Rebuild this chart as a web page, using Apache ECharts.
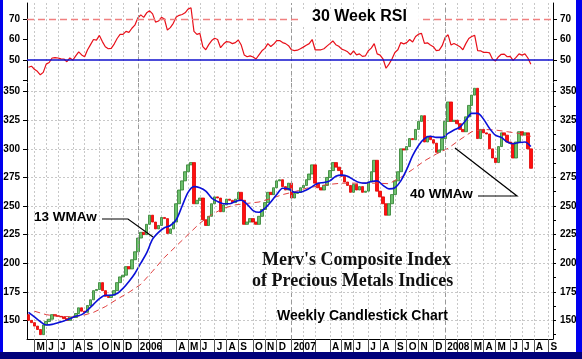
<!DOCTYPE html>
<html><head><meta charset="utf-8">
<script src="https://cdn.jsdelivr.net/npm/echarts@6/dist/echarts.min.js"></script>
<style>html,body{margin:0;padding:0;background:#fff}#c{width:582px;height:359px}</style>
</head><body><div id="c"></div>
<script>
// ---- data ----
const startFriday = '2005-04-22';
const weekCount = 178;
const monthLetters = ['J','F','M','A','M','J','J','A','S','O','N','D'];
const hiddenMonthLabels = ['2006-02','2006-03','2007-02','2007-03','2008-02'];
const yearLineDates = ['2006-01-06','2007-01-05','2008-01-04'];

const opens = [155,150,148,145,142,137.5,146,149,151,155,154,153.5,153,151.5,150,153,152.5,156,161,158,
157,163,168,176,177,183,176,171,170,172,176,183,188,189.5,197,195,203,210,222,227,
225,234,242,236,230,233,240,239,226,230,236,252,264,272,280,286,288,252,255,257,
238,233,241,252,258,257,245,251,256,255,253,256,262,255,234,236,239,236,234,241,
247,253,262,260,266,272,273,267,264,270,257,261,262,266,268,273,278,286,270,266,
264,268,275,281,288,284,281,276,271,268,262,269,264,267,262,263,271,280,290,263,
258,252,242,252,260,272,280,300,299,302,309,308,317,324,329,306,311,308,305,297,
299,309,324,341,324,325,322,317,315,328,338,347,353,309,317,314,313,300,292,288,
302,314,312,306,305,292,306,315,312,314,300];
const closes = [150,148,145,142,137.5,146,149,151,155,154,153.5,153,151.5,150,153,152.5,156,161,158,157,
163,168,176,177,183,176,171,170,172,176,183,188,189.5,197,195,203,210,222,227,225,
234,242,236,230,233,240,239,226,230,236,252,264,272,280,286,288,252,255,257,238,
233,241,252,258,257,245,251,256,255,253,256,262,255,234,236,239,236,234,241,247,
253,262,260,266,272,273,267,264,270,257,261,262,266,268,273,278,286,270,266,264,
268,275,281,288,284,281,276,271,268,262,269,264,267,262,263,271,280,290,263,258,
252,242,252,260,272,280,300,299,302,309,308,317,324,329,306,311,308,305,297,299,
309,324,341,324,325,322,317,315,328,338,347,353,309,317,314,313,300,292,288,302,
314,312,306,305,292,306,315,312,314,300,283];
const rsi30 = [46.5,47,45.5,44.5,42.8,44,48,48.8,51,51.2,51,50.6,50.5,49.2,51,50,52,54,52.5,51.6,
55,57.5,60,59.7,62,59,56.5,55.5,55.7,57.8,60.5,62.5,62.5,64,63.5,65.5,67,70.5,72,70.8,
73,74,72.5,68.5,69,70.8,70,64.6,65.8,67.9,71,71.8,72.2,73,74.8,75.5,64,62.5,63,56.5,
55,57.5,59.5,60.6,60,56,57.8,59,58.8,58,58.5,59.8,57.3,52.5,51.6,52,51.5,50.5,52.5,54.5,
55.7,58,56.6,57.8,59.5,59.5,58.5,58,57,55,54.6,54.8,55.5,56.3,57.2,58,60,55,55,55,
55.5,56.8,58,59.3,57.5,56.7,55.3,54.8,54,52.6,54.5,52.5,53,51.8,52,54.5,55.8,58,53,52.4,
50.5,46,48,50.5,53.7,55,58.5,57.9,58.5,60,58.8,61.5,62.6,63,58.1,58.4,57.3,56.5,54.6,54.8,
57,61,62.3,57.3,58.1,57.3,56.5,55,58,60.5,61.5,62,54.6,54.5,53.7,53.8,53.5,50.5,49.5,51.5,
52.8,52.9,51.6,51.8,49.8,51.3,53,52.4,53,51,48];
// 13 week WMA, read every 2nd week starting at week 0
const ma13Values = [157,153,149,146,146.5,148,149.5,151.5,153.5,155,159,164,169,172,172,173.5,178,184,191,200,
209,221,227,231,233,238,250,262,267,266,263,257,254,252,252,254,255,251.5,246,244.5,
248,253.5,260,265.5,265,262,262,264,267,270,270.5,272,276,277,276,273,270.5,270,271.5,272,
268,265,266,272,282,294,303,309,311,310,310,313.5,316.5,319,325,331,331,326,318,312,
310,306,304.5,305.5,306,302];
// 40 week WMA, read every 4th week starting at week 2
const ma40Values = [158,155,153.5,153.2,154,157,162,168.5,174.5,181.5,193,205,215,225,235,242.5,248,251,252.3,253.5,
256.5,260,262.5,265.5,267.5,269,270,270,270,270,269.5,275,282,289.5,295.5,300.5,308,315,317,316.5,
315,313.5,311];
const priceLabels = [150,175,200,225,250,275,300,325,350];
const priceMinorTicks = [137.5,150,162.5,175,187.5,200,212.5,225,237.5,250,262.5,275,287.5,300,312.5,325,337.5,350];
const rsiTicks = [40,50,60,70];
const rsiLabels = [50,60,70];

// ---- build ----
const dates = [];
const t0 = Date.parse(startFriday + 'T00:00:00Z');
for (let k = 0; k < weekCount; k++) dates.push(new Date(t0 + k * 7 * 86400000).toISOString().slice(0, 10));
const isMonthStart = (idx) => +dates[idx].slice(8, 10) <= 7;
const showLabel = (idx) => isMonthStart(idx) && hiddenMonthLabels.indexOf(dates[idx].slice(0, 7)) < 0;
const fmtLabel = (v) => {
  const m = +v.slice(5, 7);
  if (m === 1) return v.slice(0, 4);
  return monthLetters[m - 1];
};
const candleData = closes.map((c, k) => [opens[k], c, Math.min(opens[k], c), Math.max(opens[k], c)]);
const ma13 = dates.map(() => null); ma13Values.forEach((v, k) => { ma13[k * 2] = v; });
const ma40 = dates.map(() => null); ma40Values.forEach((v, k) => { ma40[2 + k * 4] = v; });

const AX = '#000';
const gridLine = { show: true, alignWithLabel: true, interval: (i) => isMonthStart(i), lineStyle: { color: '#c8c8c8', type: [2, 2], width: 1 } };
const yearMark = () => ({
  silent: true, symbol: 'none', label: { show: false },
  lineStyle: { color: '#9a9a9a', type: [4, 3], width: 1 },
  data: yearLineDates.map(d => ({ xAxis: d }))
});
const labelFont = { fontFamily: 'Arial', fontWeight: 'bold', fontSize: 10, color: '#000' };

const option = {
  animation: false,
  backgroundColor: '#fff',
  grid: [
    { left: 27, right: 29, top: 3, height: 79 },
    { left: 27, right: 29, top: 83, height: 256 }
  ],
  xAxis: [
    { type: 'category', gridIndex: 0, data: dates, boundaryGap: true,
      axisLine: { show: false }, axisTick: { show: false }, axisLabel: { show: false },
      splitLine: gridLine },
    { type: 'category', gridIndex: 1, data: dates, boundaryGap: true,
      axisLine: { show: true, lineStyle: { color: AX } },
      axisTick: { show: true, alignWithLabel: true, interval: (i) => isMonthStart(i), length: 13, lineStyle: { color: '#555' } },
      axisLabel: Object.assign({ show: true, interval: (i) => showLabel(i), formatter: fmtLabel, align: 'left', margin: 3, padding: [0, 0, 0, 2] }, labelFont),
      splitLine: gridLine }
  ],
  yAxis: [
    { type: 'value', gridIndex: 0, position: 'left', min: 39.3, max: 77.8,
      axisLine: { show: true, lineStyle: { color: AX } },
      axisTick: { show: true, customValues: rsiTicks, length: 4, lineStyle: { color: AX } },
      axisLabel: Object.assign({ customValues: rsiLabels, margin: 7 }, labelFont),
      splitLine: { show: false } },
    { type: 'value', gridIndex: 0, position: 'right', min: 39.3, max: 77.8,
      axisLine: { show: true, lineStyle: { color: AX } },
      axisTick: { show: true, customValues: rsiTicks, length: 4, lineStyle: { color: AX } },
      axisLabel: Object.assign({ customValues: rsiLabels, margin: 7 }, labelFont),
      splitLine: { show: false } },
    { type: 'value', gridIndex: 1, position: 'left', min: 133.7, max: 357.6,
      axisLine: { show: true, lineStyle: { color: AX } },
      axisTick: { show: true, customValues: priceLabels, length: 4, lineStyle: { color: AX } },
      axisLabel: Object.assign({ customValues: priceLabels, margin: 7 }, labelFont),
      splitLine: { show: true, lineStyle: { color: '#c8c8c8', type: [2, 2] } } },
    { type: 'value', gridIndex: 1, position: 'right', min: 133.7, max: 357.6,
      axisLine: { show: true, lineStyle: { color: AX } },
      axisTick: { show: true, customValues: priceMinorTicks, length: 3, lineStyle: { color: AX } },
      axisLabel: Object.assign({ customValues: priceLabels, margin: 7 }, labelFont),
      splitLine: { show: false } }
  ],
  series: [
    { name: 'RSI', type: 'line', xAxisIndex: 0, yAxisIndex: 0, data: rsi30, symbol: 'none',
      lineStyle: { color: '#e8101a', width: 1.2 },
      markLine: { silent: true, symbol: 'none', label: { show: false },
        data: [
          ...yearLineDates.map(d => ({ xAxis: d, lineStyle: { color: '#9a9a9a', type: [4, 3], width: 1 } })),
          { yAxis: 70, lineStyle: { color: '#f08080', type: [7, 4], width: 1.3 } },
          { yAxis: 50, lineStyle: { color: '#1010cc', type: 'solid', width: 1.5 } }
        ] } },
    { name: 'Index', type: 'candlestick', xAxisIndex: 1, yAxisIndex: 2, data: candleData, barWidth: 3,
      itemStyle: { color: '#6cc06c', color0: '#ff1010', borderColor: '#2f7d2f', borderColor0: '#e00000', borderWidth: 0.8 },
      markLine: yearMark() },
    { name: '40 WMAw', type: 'line', xAxisIndex: 1, yAxisIndex: 2, data: ma40, connectNulls: true, symbol: 'none',
      lineStyle: { color: '#e04040', width: 1, type: [6, 4] }, z: 3 },
    { name: '13 WMAw', type: 'line', xAxisIndex: 1, yAxisIndex: 2, data: ma13, connectNulls: true, symbol: 'none',
      smooth: 0.3, lineStyle: { color: '#0a10d8', width: 1.6 }, z: 4 }
  ],
  graphic: [
    { type: 'text', left: 300, top: 9, z: 10, style: { text: '30 Week RSI', font: 'bold 16px Arial', fill: '#000', backgroundColor: '#fff', padding: [0, 12, 0, 12] } },
    { type: 'text', left: 34, top: 210, z: 10, style: { text: '13 WMAw', font: 'bold 13.5px Arial', fill: '#000' } },
    { type: 'polyline', z: 10, shape: { points: [[102, 219], [128, 219], [153, 237]] }, style: { stroke: '#000', lineWidth: 1.2, fill: null } },
    { type: 'text', left: 410, top: 187, z: 10, style: { text: '40 WMAw', font: 'bold 13.5px Arial', fill: '#000' } },
    { type: 'polyline', z: 10, shape: { points: [[478, 196], [517, 196], [455, 148]] }, style: { stroke: '#000', lineWidth: 1.2, fill: null } },
    { type: 'text', left: 262, top: 251, z: 10, style: { text: "Merv's Composite Index", font: 'bold 18px "Liberation Serif"', fill: '#111' } },
    { type: 'text', left: 252, top: 272, z: 10, style: { text: 'of Precious Metals Indices', font: 'bold 18px "Liberation Serif"', fill: '#111' } },
    { type: 'text', left: 277, top: 309, z: 10, style: { text: 'Weekly Candlestick Chart', font: 'bold 14px Arial', fill: '#000' } },
    { type: 'rect', z: 20, shape: { x: 0, y: 0, width: 3, height: 359 }, style: { fill: '#0000ee' } },
    { type: 'rect', z: 20, shape: { x: 576, y: 0, width: 6, height: 359 }, style: { fill: '#0000ee' } },
    { type: 'rect', z: 20, shape: { x: 0, y: 352, width: 582, height: 7 }, style: { fill: '#00007a' } }
  ]
};
const chart = echarts.init(document.getElementById('c'));
chart.setOption(option);
</script></body></html>
